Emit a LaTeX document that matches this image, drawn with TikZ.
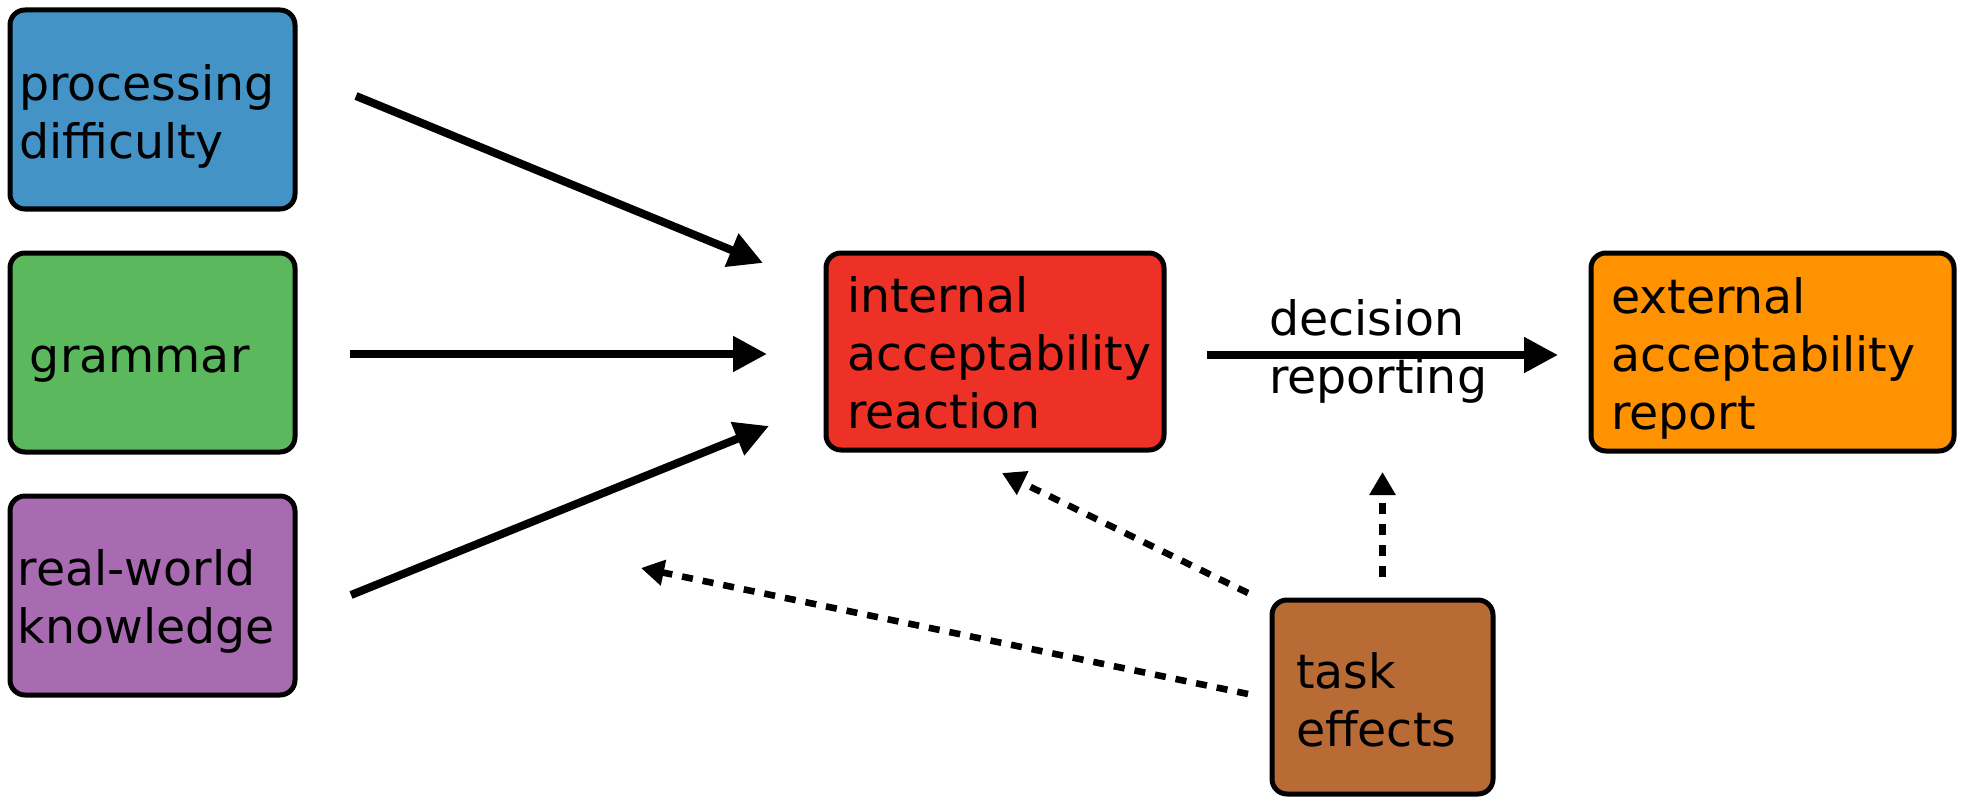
\documentclass[tikz,border=0pt]{standalone}
\usepackage{fontspec}
\setmainfont{DejaVu Sans}
\usetikzlibrary{arrows.meta,calc}

\definecolor{cblue}{HTML}{4393C7}
\definecolor{cgreen}{HTML}{5CB85C}
\definecolor{cpurple}{HTML}{A86AB0}
\definecolor{cred}{HTML}{EE3126}
\definecolor{corange}{HTML}{FF9200}
\definecolor{cbrown}{HTML}{B86B35}

% fixed-height strut so that the top of a text block sits a known distance above its first baseline
\newcommand\lnstrut{\rule{0pt}{0.8em}}

\begin{document}
\begin{tikzpicture}[x=0.5pt,y=-0.5pt,
  box/.style={draw=black, line width=2.5pt, rounded corners=7.5pt,
    inner sep=0pt, outer sep=0pt},
  txt/.style={anchor=north west, inner sep=0pt, outer sep=0pt, align=left,
    font=\fontsize{23.7}{29}\selectfont},
  flow/.style={line width=4pt, -{Triangle[length=17pt,width=17pt]}},
  hint/.style={line width=3.3pt, dash pattern=on 5.5pt off 5pt,
    -{Triangle[length=11.5pt,width=12.5pt]}}]

\useasboundingbox (0,0) rectangle (1961,797);

% factor boxes
\node[box, fill=cblue,   minimum width=142.5pt, minimum height=99.5pt] (proc) at (152.5,109.5) {};
\node[box, fill=cgreen,  minimum width=142.5pt, minimum height=99.5pt] (gram) at (152.5,352.5) {};
\node[box, fill=cpurple, minimum width=142.5pt, minimum height=99.5pt] (real) at (152.5,595.5) {};
\node[box, fill=cred,    minimum width=169pt,   minimum height=98.5pt] (int)  at (995,351.5) {};
\node[box, fill=corange, minimum width=181.5pt, minimum height=99pt]   (ext)  at (1772.5,352) {};
\node[box, fill=cbrown,  minimum width=110.5pt, minimum height=97pt]   (task) at (1382.5,697) {};

% labels
\node[txt] (proc-t) at (19,62.1)    {\lnstrut processing\\difficulty};
\node[txt] (gram-t) at (30,334.1)   {\lnstrut grammar};
\node[txt] (real-t) at (18,547.1)   {\lnstrut real-world\\knowledge};
\node[txt] (int-t)  at (847,274.1)  {\lnstrut internal\\acceptability\\reaction};
\node[txt] (ext-t)  at (1611,275.1) {\lnstrut external\\acceptability\\report};
\node[txt] (task-t) at (1296,650.1) {\lnstrut task\\effects};
\node[txt] (dec-t)  at (1269,297.1) {\lnstrut decision\\reporting};

% influences on the internal reaction
\draw[flow] ($(proc.east)+(61,-13.5)$) -- ($(int.west)+(-63,-88.5)$);
\draw[flow] ($(gram.east)+(55,1.5)$)   -- ($(int.west)+(-59,2.5)$);
\draw[flow] ($(real.east)+(56,-0.5)$)  -- ($(int.west)+(-57,74.5)$);

% decision / reporting step
\draw[flow] ($(int.east)+(43,3.5)$) -- ($(ext.west)+(-33,3)$);

% task effects
\coordinate (factors) at (641,568);
\draw[hint] ($(task.north)+(0,-23)$)   -- ($(task.north)+(0,-128)$);
\draw[hint] ($(task.west)+(-24,-104)$) -- ($(int.south)+(7,23)$);
\draw[hint] ($(task.west)+(-24,-3)$)   -- (factors);

\end{tikzpicture}
\end{document}
